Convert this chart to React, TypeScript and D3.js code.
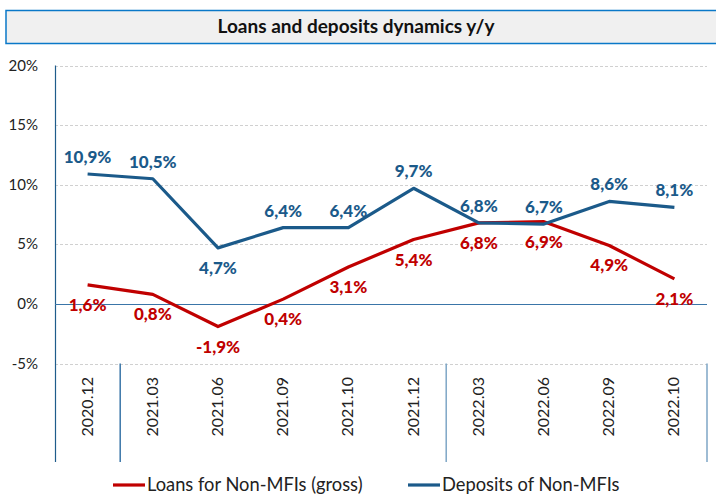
import React, { useRef, useEffect } from "react";
import * as d3 from "d3";

const categories = [
  "2020.12", "2021.03", "2021.06", "2021.09", "2021.10",
  "2021.12", "2022.03", "2022.06", "2022.09", "2022.10",
];
const loans = [1.6, 0.8, -1.9, 0.4, 3.1, 5.4, 6.8, 6.9, 4.9, 2.1];
const deposits = [10.9, 10.5, 4.7, 6.4, 6.4, 9.7, 6.8, 6.7, 8.6, 8.1];
// which deposit labels sit under the line
const depositsBelow = [false, false, true, false, false, false, false, false, false, false];
const yTicks = [-5, 0, 5, 10, 15, 20];
// index of first category of each year group
const groupStarts = [0, 1, 6];

const series = [
  { name: "Loans for Non-MFIs (gross)", values: loans, color: "#c00000" },
  { name: "Deposits of Non-MFIs", values: deposits, color: "#1b5a8a" },
];

const fmt = (v: number) => v.toFixed(1).replace(".", ",") + "%";
const FONT = "Lato, 'Open Sans', sans-serif";

const Chart = ({ width = 716, height = 496 }) => {
  const svgRef = useRef<SVGSVGElement>(null);

  useEffect(() => {
    const svg = d3.select(svgRef.current);
    svg.selectAll("*").remove();
    svg.attr("width", width).attr("height", height).style("font-family", FONT);

    const left = 55;
    const right = 707;

    const x = d3.scaleBand().domain(categories).range([left, right]);
    const cx = (c: string) => (x(c) as number) + x.bandwidth() / 2;
    const y = d3.scaleLinear().domain([-5, 20]).range([363.5, 65.5]);

    // title box
    svg.append("rect")
      .attr("x", 6).attr("y", 10.5)
      .attr("width", 716).attr("height", 33)
      .attr("fill", "#f0f0f0")
      .attr("stroke", "#0a78c8")
      .attr("stroke-width", 1.5);
    svg.append("text")
      .attr("x", 356).attr("y", 33)
      .attr("text-anchor", "middle")
      .attr("font-weight", "bold")
      .attr("font-size", 19)
      .attr("fill", "#111")
      .text("Loans and deposits dynamics y/y");

    // grid
    svg.append("g")
      .selectAll("line")
      .data(yTicks.filter((d) => d !== 0))
      .join("line")
      .attr("x1", left).attr("x2", right)
      .attr("y1", (d) => Math.round(y(d)) + 0.5)
      .attr("y2", (d) => Math.round(y(d)) + 0.5)
      .attr("stroke", "#d0d0d0")
      .attr("stroke-dasharray", "3,2");

    // y labels
    svg.append("g")
      .selectAll("text")
      .data(yTicks)
      .join("text")
      .attr("x", 38)
      .attr("y", (d) => y(d) + 5)
      .attr("text-anchor", "end")
      .attr("font-size", 15)
      .attr("fill", "#222")
      .text((d) => d + "%");

    // axis lines
    svg.append("line")
      .attr("x1", left + 0.5).attr("x2", left + 0.5)
      .attr("y1", y(20)).attr("y2", 462)
      .attr("stroke", "#1f5c8b").attr("stroke-width", 1.2);
    svg.append("line")
      .attr("x1", left).attr("x2", right)
      .attr("y1", Math.round(y(0)) + 0.5).attr("y2", Math.round(y(0)) + 0.5)
      .attr("stroke", "#3a75a8").attr("stroke-width", 1.2);

    // group separators
    const seps = groupStarts.slice(1).map((i) => x(categories[i]) as number).concat([right]);
    svg.append("g")
      .selectAll("line")
      .data(seps)
      .join("line")
      .attr("x1", (d) => d).attr("x2", (d) => d)
      .attr("y1", y(-5)).attr("y2", 462)
      .attr("stroke", (d, i) => (i === 0 ? "#3a75a8" : "#7ea6c6"))
      .attr("stroke-width", 1.5);

    // x labels
    svg.append("g")
      .selectAll("text")
      .data(categories)
      .join("text")
      .attr("transform", (d) => `translate(${cx(d) + 5},377) rotate(-90)`)
      .attr("text-anchor", "end")
      .attr("font-size", 16)
      .attr("fill", "#222")
      .text((d) => d);

    const line = d3.line<number>()
      .x((_, i) => cx(categories[i]))
      .y((d) => y(d));

    series.forEach((s) => {
      svg.append("path")
        .datum(s.values)
        .attr("fill", "none")
        .attr("stroke", s.color)
        .attr("stroke-width", 3.2)
        .attr("stroke-linejoin", "round")
        .attr("d", line);
    });

    // data labels
    svg.append("g")
      .selectAll("text")
      .data(loans)
      .join("text")
      .attr("x", (_, i) => cx(categories[i]))
      .attr("y", (d) => y(d) + 26)
      .attr("text-anchor", "middle")
      .attr("font-weight", "900")
      .attr("font-size", 17)
      .attr("fill", "#c00000")
      .text((d) => fmt(d));

    svg.append("g")
      .selectAll("text")
      .data(deposits)
      .join("text")
      .attr("x", (_, i) => cx(categories[i]))
      .attr("y", (d, i) => (depositsBelow[i] ? y(d) + 26 : y(d) - 11))
      .attr("text-anchor", "middle")
      .attr("font-weight", "900")
      .attr("font-size", 17)
      .attr("fill", "#1b5a8a")
      .text((d) => fmt(d));

    // legend
    const legendX = [113, 408];
    const lg = svg.append("g")
      .selectAll("g")
      .data(series)
      .join("g")
      .attr("transform", (_, i) => `translate(${legendX[i]},485)`);
    lg.append("line")
      .attr("x1", 0).attr("x2", 32)
      .attr("stroke", (d) => d.color)
      .attr("stroke-width", 3.2);
    lg.append("text")
      .attr("x", 34).attr("y", 6)
      .attr("font-size", 18.3)
      .attr("fill", "#222")
      .text((d) => d.name);
  }, [width, height]);

  return <svg ref={svgRef} style={{ display: "block" }}></svg>;
};

export default function App() {
  return (
    <div style={{ position: "absolute", left: 0, top: 0 }}>
      <Chart />
    </div>
  );
}
